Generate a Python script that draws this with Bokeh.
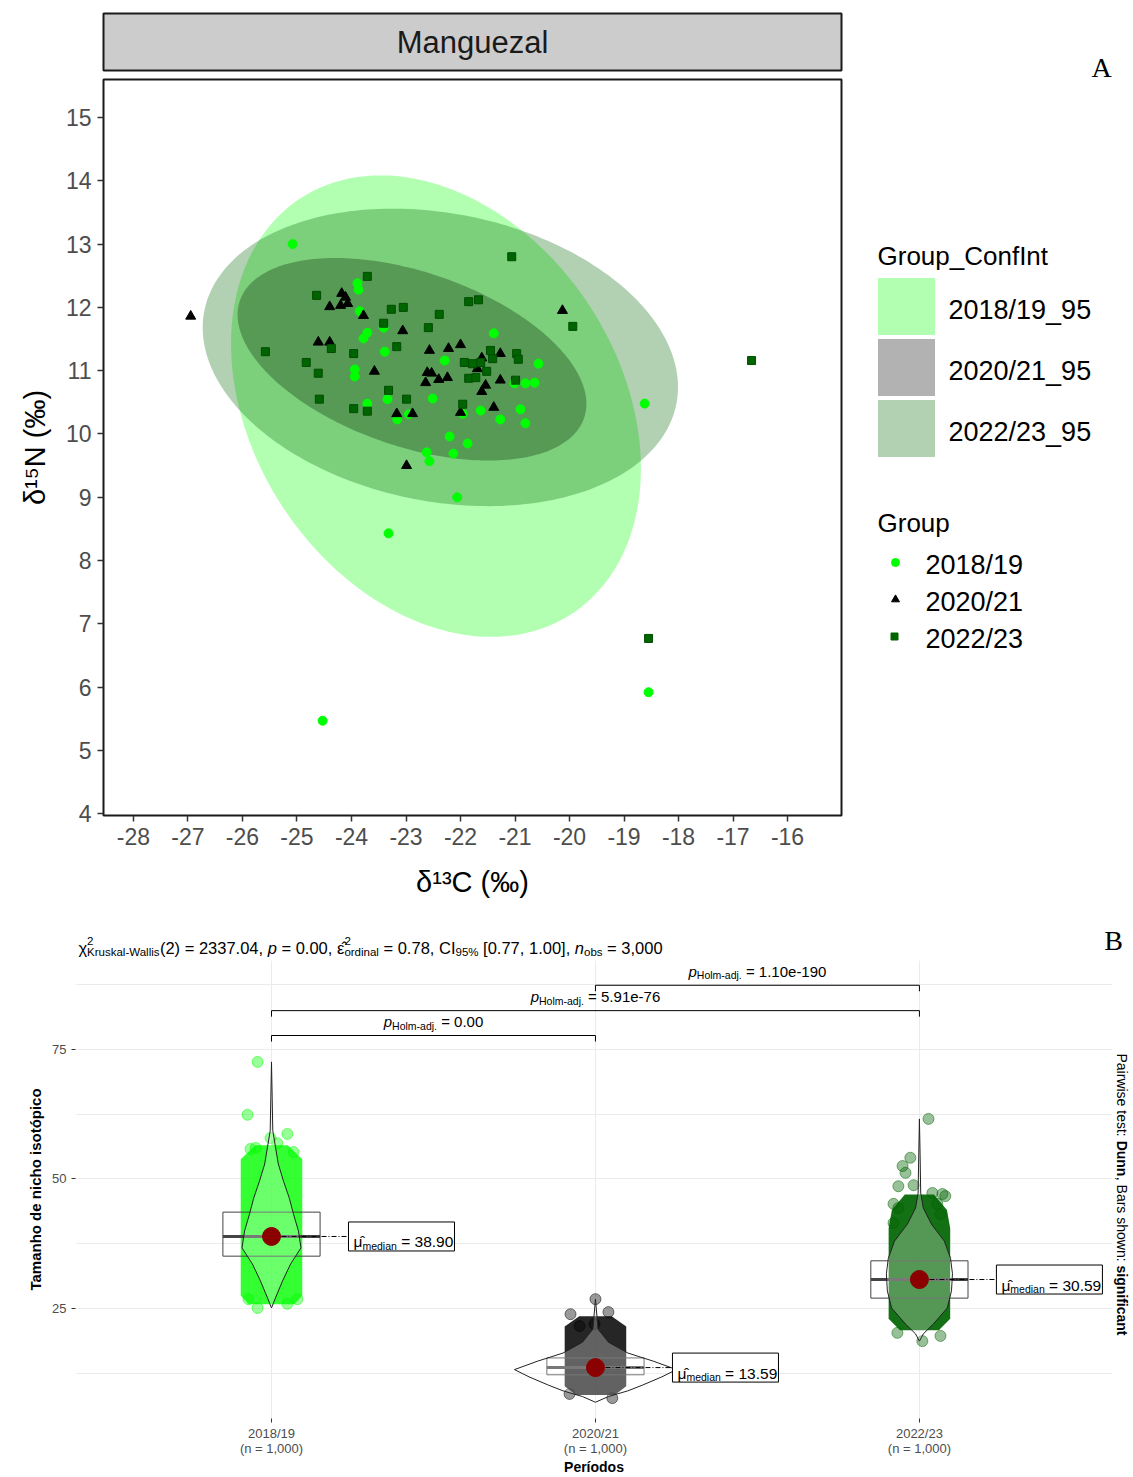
import numpy as np
from bokeh.plotting import figure
from bokeh.models import Range1d, FixedTicker
from bokeh.layouts import column, row
from bokeh.embed import file_html
from bokeh.resources import INLINE
from bokeh.core.properties import value

FONT = "Liberation Sans"
SERIF = "Liberation Serif"

# ---------------- Panel A data ----------------
groups = ["2018/19", "2020/21", "2022/23"]
ci_groups = ["2018/19_95", "2020/21_95", "2022/23_95"]
group_colors = ["#00ff00", "#000000", "#006400"]
x_ticks_a = list(range(-28, -15))
y_ticks_a = list(range(4, 16))

x_1819 = [-25.08, -23.89, -23.87, -23.85, -23.71, -23.78, -23.39, -23.41, -23.94, -23.94,
          -22.29, -22.51, -23.34, -23.71, -23.16, -22.95, -21.39, -20.57, -20.81, -20.64,
          -21.01, -21.96, -21.63, -20.90, -21.27, -20.81, -22.20, -21.87, -22.62, -22.57,
          -22.13, -18.62, -22.06, -23.32, -18.55, -24.53]
y_1819 = [13.00, 12.38, 12.28, 11.94, 11.60, 11.51, 11.30, 11.68, 11.02, 10.91,
          11.16, 10.56, 10.55, 10.48, 10.23, 10.31, 11.59, 11.11, 10.80, 10.81,
          10.80, 10.32, 10.37, 10.39, 10.23, 10.17, 9.96, 9.85, 9.71, 9.57,
          9.69, 10.48, 9.00, 8.43, 5.92, 5.47]

x_2021 = [-26.95, -24.18, -24.11, -24.07, -24.20, -24.40, -23.78, -23.06, -24.61, -24.40,
          -23.58, -22.57, -22.22, -22.00, -22.61, -22.53, -22.40, -22.24, -22.64, -23.17,
          -22.88, -21.61, -21.69, -21.27, -21.54, -21.61, -21.27, -21.39, -22.00, -20.13,
          -22.99]
y_2021 = [11.86, 12.22, 12.16, 12.06, 12.03, 12.01, 11.87, 11.63, 11.45, 11.45,
          10.99, 11.32, 11.35, 11.41, 10.97, 10.96, 10.86, 10.89, 10.81, 10.32,
          10.32, 11.20, 11.03, 11.27, 10.77, 10.67, 10.85, 10.42, 10.34, 11.95,
          9.50]

x_2223 = [-21.06, -16.66, -18.55, -23.71, -24.64, -23.27, -23.05, -22.39, -22.59, -23.41,
          -23.17, -25.58, -24.37, -23.96, -24.83, -24.61, -23.32, -22.99, -24.59, -23.96,
          -23.71, -21.85, -21.67, -19.94, -21.45, -21.41, -20.97, -20.94, -21.93, -21.78,
          -21.63, -21.52, -21.85, -21.72, -20.99, -21.96]
y_2223 = [12.80, 11.16, 6.77, 12.49, 12.19, 11.97, 12.00, 11.89, 11.68, 11.75,
          11.38, 11.30, 11.35, 11.27, 11.13, 10.96, 10.69, 10.55, 10.55, 10.40,
          10.36, 12.09, 12.12, 11.70, 11.32, 11.19, 11.27, 11.18, 11.13, 11.11,
          11.13, 10.99, 10.88, 10.89, 10.85, 10.47]

# 95% ellipses: centre, half extents, correlation
ell_cx = [-22.45, -22.89, -22.37]
ell_cy = [10.44, 11.18, 11.21]
ell_hx = [3.76, 3.20, 4.36]
ell_hy = [3.645, 1.60, 2.35]
ell_rho = [-0.27, -0.44, -0.20]

# ---------------- Panel B data ----------------
periods = ["2018/19", "2020/21", "2022/23"]
n_obs = ["1,000", "1,000", "1,000"]
median_vals = [38.90, 13.59, 30.59]
box_q1 = [35.1, 12.2, 27.0]
box_q3 = [43.6, 15.45, 34.2]

vio_y = [
    [72.6, 66.0, 59.3, 52.9, 49.6, 46.3, 43.2, 40.0, 36.7, 33.6, 30.3, 27.0, 25.1],
    [26.8, 21.0, 18.5, 16.4, 14.8, 13.2, 11.8, 10.2, 9.1, 8.0, 6.9],
    [61.6, 55.0, 47.3, 44.4, 41.3, 38.0, 34.7, 31.7, 28.4, 25.1, 22.0, 20.1, 18.7],
]
vio_hw = [
    [0.0, 0.002, 0.004, 0.021, 0.037, 0.055, 0.068, 0.083, 0.091, 0.059, 0.034, 0.012, 0.0],
    [0.0, 0.008, 0.04, 0.10, 0.18, 0.25, 0.205, 0.145, 0.10, 0.04, 0.0],
    [0.0, 0.002, 0.004, 0.012, 0.037, 0.077, 0.096, 0.102, 0.099, 0.086, 0.043, 0.012, 0.0],
]
# dense jitter clouds (y, half width)
cloud_y = [
    [56.5, 53.8, 27.5, 25.8],
    [23.5, 21.5, 10.0, 8.3],
    [47.0, 44.0, 40.5, 23.0, 20.8],
]
cloud_hw = [
    [0.05, 0.095, 0.095, 0.07],
    [0.05, 0.095, 0.095, 0.06],
    [0.045, 0.085, 0.095, 0.095, 0.06],
]
# sparse jitter points (offset from category, value)
out_dx = [
    [-0.043, -0.074, 0.049, -0.003, 0.018, -0.065, -0.049, 0.068, -0.071, -0.043, 0.049, 0.080],
    [0.0, -0.077, 0.040, -0.003, -0.049, -0.080, 0.052],
    [0.028, -0.028, -0.052, -0.043, -0.065, -0.018, -0.080, 0.071, 0.040, 0.065, 0.080, 0.055,
     -0.065, -0.080, 0.009, -0.068, 0.065],
]
out_y = [
    [72.6, 62.4, 58.7, 57.9, 56.9, 55.8, 56.0, 55.2, 26.8, 25.1, 25.9, 26.8],
    [26.8, 23.9, 24.3, 22.0, 21.6, 8.5, 7.7],
    [61.6, 54.1, 52.5, 51.2, 48.6, 48.8, 45.2, 47.1, 47.3, 43.2, 46.7, 45.2,
     44.4, 41.5, 18.7, 20.3, 19.7],
]
pair_a = [1, 1, 2]
pair_b = [2, 3, 3]
pair_p = ["0.00", "5.91e-76", "1.10e-190"]
bracket_y = [77.7, 82.5, 87.4]
y_ticks_b = [25, 50, 75]
y_minor_b = [12.5, 37.5, 62.5, 87.5]

# ---------------- rich text helper ----------------
CW = {c: 556 for c in "0123456789"}
CW.update({' ': 278, '(': 333, ')': 333, ',': 278, '-': 333, '.': 278, '/': 278, '=': 584,
           '[': 278, ']': 278, '%': 889, '_': 556, ':': 278,
           'a': 556, 'b': 556, 'c': 500, 'd': 556, 'e': 556, 'f': 278, 'g': 556, 'h': 556,
           'i': 222, 'j': 222, 'k': 500, 'l': 222, 'm': 833, 'n': 556, 'o': 556, 'p': 556,
           'q': 556, 'r': 333, 's': 500, 't': 278, 'u': 556, 'v': 500, 'w': 722, 'x': 500,
           'y': 500, 'z': 500, 'A': 667, 'B': 667, 'C': 722, 'D': 722, 'E': 667, 'F': 611,
           'G': 778, 'H': 722, 'I': 278, 'J': 500, 'K': 667, 'L': 556, 'M': 833, 'N': 722,
           'O': 778, 'P': 667, 'Q': 778, 'R': 722, 'S': 667, 'T': 611, 'U': 722, 'V': 667,
           'W': 944, 'X': 667, 'Y': 667, 'Z': 611, '\u03c7': 520, '\u03bc': 576,
           '\u03b5': 450, '\u0302': 0})


def text_width(s, size, style):
    w = sum(CW.get(c, 556) for c in s) * size / 1000.0
    return w * (1.08 if "bold" in style else 1.0)


def draw_runs(p, x0, y0, runs, ppx, ppy, align="left", angle=0.0, color="#000000"):
    total = sum(text_width(t, s, st) for (t, s, st, sh, adv) in runs if adv)
    off = {"left": 0.0, "center": -total / 2.0, "right": -total}[align]
    for (t, s, st, sh, adv) in runs:
        lead = len(t) - len(t.lstrip(" "))
        d = off + lead * 278 * s / 1000.0
        if angle == 0.0:
            x = x0 + d / ppx
            y = y0 + sh / ppy
        else:
            x = x0 + sh / ppx
            y = y0 - d / ppy
        p.text(x=[x], y=[y], text=[t.strip(" ")], angle=angle, text_font=value(FONT),
               text_font_size=value(f"{s}px"), text_font_style=value(st),
               text_color=color, text_align="left", text_baseline="alphabetic")
        if adv:
            off += text_width(t, s, st)


def blank_fig(w, h, xr, yr, **kw):
    args = dict(min_border_left=0, min_border_right=0, min_border_top=0, min_border_bottom=0)
    args.update(kw)
    f = figure(width=w, height=h, x_range=xr, y_range=yr, output_backend="svg",
               toolbar_location=None, x_axis_location=None, y_axis_location=None, **args)
    f.outline_line_color = None
    f.grid.visible = False
    f.background_fill_color = "white"
    f.border_fill_color = "white"
    return f


# ---------------- strip ----------------
strip = figure(width=843, height=77, x_range=Range1d(0, 1), y_range=Range1d(0, 1),
               output_backend="svg", toolbar_location=None,
               x_axis_location=None, y_axis_location=None,
               min_border_left=101, min_border_right=1, min_border_top=13, min_border_bottom=7)
strip.grid.visible = False
strip.background_fill_color = "#cccccc"
strip.border_fill_color = "white"
strip.outline_line_color = "#1a1a1a"
strip.outline_line_width = 2
strip.text(x=[0.5], y=[0.5], text=["Manguezal"], text_font=value(FONT), text_font_size="31px",
           text_color="#1a1a1a", text_align="center", text_baseline="middle")

# ---------------- panel A ----------------
pa = figure(width=843, height=828, x_range=Range1d(-28.55, -15.01), y_range=Range1d(3.973, 15.60),
            output_backend="svg", toolbar_location=None,
            min_border_left=103, min_border_right=2, min_border_top=2, min_border_bottom=90)
pa.grid.visible = False
pa.outline_line_color = "#1a1a1a"
pa.outline_line_width = 2
pa.background_fill_color = "white"
pa.border_fill_color = "white"

t = np.linspace(0, 2 * np.pi, 241)
for i in range(3):
    r = ell_rho[i]
    ex = ell_cx[i] + ell_hx[i] * np.cos(t)
    ey = ell_cy[i] + ell_hy[i] * (r * np.cos(t) + np.sqrt(1 - r * r) * np.sin(t))
    pa.patch(ex, ey, fill_color=group_colors[i], fill_alpha=0.3, line_alpha=0)

pa.scatter(x_1819, y_1819, marker="circle", size=9, fill_color=group_colors[0], line_color=group_colors[0])
pa.scatter(x_2021, y_2021, marker="triangle", size=10, fill_color=group_colors[1], line_color=group_colors[1])
pa.scatter(x_2223, y_2223, marker="square", size=8, fill_color=group_colors[2], line_color="#004d00")

for ax, ticks, lab in ((pa.xaxis, x_ticks_a, "\u03b4\u00b9\u00b3C (\u2030)"),
                       (pa.yaxis, y_ticks_a, "\u03b4\u00b9\u2075N (\u2030)")):
    ax.ticker = FixedTicker(ticks=ticks)
    ax.major_label_overrides = {v: str(v) for v in ticks}
    ax.axis_line_color = None
    ax.major_tick_out = 6
    ax.major_tick_in = 0
    ax.minor_tick_line_color = None
    ax.major_tick_line_color = "#333333"
    ax.major_tick_line_width = 1.5
    ax.major_label_text_font = FONT
    ax.major_label_text_font_size = "23px"
    ax.major_label_text_color = "#4d4d4d"
    ax.major_label_standoff = 6
    ax.axis_label = lab
    ax.axis_label_text_font = FONT
    ax.axis_label_text_font_size = "29px"
    ax.axis_label_text_font_style = "normal"
    ax.axis_label_text_color = "#000000"
pa.xaxis.axis_label_standoff = 18
pa.yaxis.axis_label_standoff = 12

# ---------------- legend panel ----------------
lf = blank_fig(290, 905, Range1d(843, 1133), Range1d(905, 0))
lf.text(x=[1101], y=[67], text=["A"], text_font=value(SERIF), text_font_size="28px",
        text_color="#000000", text_align="center", text_baseline="middle")
lf.text(x=[877], y=[255], text=["Group_ConfInt"], text_font=value(FONT), text_font_size="26px",
        text_color="#000000", text_align="left", text_baseline="middle")
lf.quad(left=[877] * 3, right=[935] * 3, top=[277, 338, 399], bottom=[335, 396, 457],
        fill_color=group_colors, fill_alpha=0.3, line_color="white", line_width=1)
lf.text(x=[948] * 3, y=[309, 370, 431], text=ci_groups, text_font=value(FONT), text_font_size="27px",
        text_color="#000000", text_align="left", text_baseline="middle")
lf.text(x=[877], y=[522], text=["Group"], text_font=value(FONT), text_font_size="26px",
        text_color="#000000", text_align="left", text_baseline="middle")
lf.scatter([895], [562], marker="circle", size=8, fill_color=group_colors[0], line_color=group_colors[0])
lf.scatter([895], [599], marker="triangle", size=8, fill_color=group_colors[1], line_color=group_colors[1])
lf.scatter([894], [636], marker="square", size=7, fill_color=group_colors[2], line_color=group_colors[2])
lf.text(x=[925] * 3, y=[564, 601, 638], text=groups, text_font=value(FONT), text_font_size="27px",
        text_color="#000000", text_align="left", text_baseline="middle")

# ---------------- subtitle strip for panel B ----------------
cf = blank_fig(1133, 55, Range1d(0, 1133), Range1d(960, 905))
MS, SS = 16.5, 11.5
chi_runs = [
    ("\u03c7", MS, "normal", 0, True),
    ("2", SS, "normal", 7, False),
    ("Kruskal-Wallis", SS, "normal", -4, True),
    ("(2) = 2337.04, ", MS, "normal", 0, True),
    ("p", MS, "italic", 0, True),
    (" = 0.00, ", MS, "normal", 0, True),
    ("\u03b5\u0302", MS, "normal", 0, True),
    ("2", SS, "normal", 7, False),
    ("ordinal", SS, "normal", -4, True),
    (" = 0.78, CI", MS, "normal", 0, True),
    ("95%", SS, "normal", -4, True),
    (" [0.77, 1.00], ", MS, "normal", 0, True),
    ("n", MS, "italic", 0, True),
    ("obs", SS, "normal", -4, True),
    (" = 3,000", MS, "normal", 0, True),
]
draw_runs(cf, 78, 947, chi_runs, 1.0, -1.0)
cf.text(x=[1113], y=[940], text=["B"], text_font=value(SERIF), text_font_size="28px",
        text_color="#000000", text_align="center", text_baseline="middle")

# ---------------- panel B ----------------
FRAME_H = 458
BOTTOM = 59
XS, XE, YS, YE = 0.395, 3.596, 3.76, 92.18
pb = figure(width=1112, height=517, x_range=Range1d(XS, XE), y_range=Range1d(YS, YE),
            output_backend="svg", toolbar_location=None,
            min_border_left=75, min_border_right=0, min_border_top=0, min_border_bottom=BOTTOM)
pb.outline_line_color = None
pb.background_fill_color = "white"
pb.border_fill_color = "white"
PPX = 1037.0 / (XE - XS)
PPY = FRAME_H / (YE - YS)

pb.xaxis.ticker = FixedTicker(ticks=[1, 2, 3])
pb.xgrid.ticker = FixedTicker(ticks=[1, 2, 3])
pb.xaxis.major_label_overrides = {i + 1: f"{periods[i]}\n(n = {n_obs[i]})" for i in range(3)}
pb.yaxis.ticker = FixedTicker(ticks=y_ticks_b, minor_ticks=y_minor_b)
pb.ygrid.ticker = FixedTicker(ticks=y_ticks_b, minor_ticks=y_minor_b)
pb.xgrid.grid_line_color = "#ebebeb"
pb.ygrid.grid_line_color = "#ebebeb"
pb.ygrid.minor_grid_line_color = "#ebebeb"
for ax in (pb.xaxis, pb.yaxis):
    ax.axis_line_color = None
    ax.major_tick_out = 4
    ax.major_tick_in = 0
    ax.minor_tick_line_color = None
    ax.major_tick_line_color = "#333333"
    ax.major_label_text_font = FONT
    ax.major_label_text_font_size = "13px"
    ax.major_label_text_color = "#4d4d4d"
    ax.axis_label_text_font = FONT
    ax.axis_label_text_font_size = "15px"
    ax.axis_label_text_font_style = "bold"
    ax.axis_label_text_color = "#000000"
pb.xaxis.axis_label = "Per\u00edodos"
pb.xaxis.major_label_standoff = 3
pb.xaxis.major_label_text_line_height = 1.0
pb.xaxis.axis_label_standoff = 0
pb.xaxis.axis_label_text_font_size = "14px"
pb.yaxis.axis_label = "Tamanho de nicho isot\u00f3pico"

cloud_alpha = [0.8, 0.85, 0.92]
for i in range(3):
    c = i + 1
    cy = np.array(cloud_y[i])
    cw = np.array(cloud_hw[i])
    pb.patch(np.concatenate([c + cw, (c - cw)[::-1]]), np.concatenate([cy, cy[::-1]]),
             fill_color=group_colors[i], fill_alpha=cloud_alpha[i], line_alpha=0)
    pb.scatter([c + d for d in out_dx[i]], out_y[i], marker="circle", size=11,
               fill_color=group_colors[i], fill_alpha=0.4,
               line_color=group_colors[i], line_alpha=0.5, line_width=1)
for i in range(3):
    c = i + 1
    pb.quad(left=[c - 0.15], right=[c + 0.15], bottom=[box_q1[i]], top=[box_q3[i]],
            fill_alpha=0, line_color="#444444", line_width=1)
    pb.line([c - 0.15, c + 0.15], [median_vals[i]] * 2, line_color="#444444", line_width=3)
    vy = np.array(vio_y[i])
    vw = np.array(vio_hw[i])
    pb.patch(np.concatenate([c + vw, (c - vw)[::-1]]), np.concatenate([vy, vy[::-1]]),
             fill_color="white", fill_alpha=0.28, line_color="#222222", line_width=1)

for i in range(3):
    c = i + 1
    m = median_vals[i]
    bl = c + 77.0 / PPX
    pb.line([c, bl], [m, m], line_color="#000000", line_width=1, line_dash="5 2 1 2")
    pb.scatter([c], [m], marker="circle", size=18, fill_color="#8b0000", line_color="#8b0000")
    pb.quad(left=[bl], right=[bl + 106.0 / PPX], bottom=[m - 14.5 / PPY], top=[m + 14.5 / PPY],
            fill_color="white", line_color="#000000", line_width=1)
    draw_runs(pb, bl + 5.0 / PPX, m - 5.5 / PPY,
              [("\u03bc\u0302", 15.5, "normal", 0, True),
               ("median", 10.5, "normal", -4, True),
               (f" = {m:.2f}", 15.5, "normal", 0, True)], PPX, PPY)

for a, b, lab, by in zip(pair_a, pair_b, pair_p, bracket_y):
    tip = 6.0 / PPY
    pb.line([a, a, b, b], [by - tip, by, by, by - tip], line_color="#000000", line_width=1)
    draw_runs(pb, (a + b) / 2.0, by + 14.0 / PPY,
              [("p", 15, "italic", 0, True),
               ("Holm-adj.", 10.5, "normal", -4, True),
               (f" = {lab}", 15, "normal", 0, True)], PPX, PPY, align="center")

# ---------------- side caption (frame aligned with panel B) ----------------
sf = blank_fig(21, 517, Range1d(1112, 1133), Range1d(960 + FRAME_H, 960), min_border_bottom=BOTTOM)
cap_runs = [
    ("Pairwise test: ", 14, "normal", 0, True),
    ("Dunn", 14, "bold", 0, True),
    (", Bars shown: ", 14, "normal", 0, True),
    ("significant", 14, "bold", 0, True),
]
draw_runs(sf, 1121, 1053, cap_runs, 1.0, -1.0, angle=-np.pi / 2)

layout = column(row(column(strip, pa), lf), cf, row(pb, sf))
open("out.html", "w").write(file_html(layout, INLINE))
